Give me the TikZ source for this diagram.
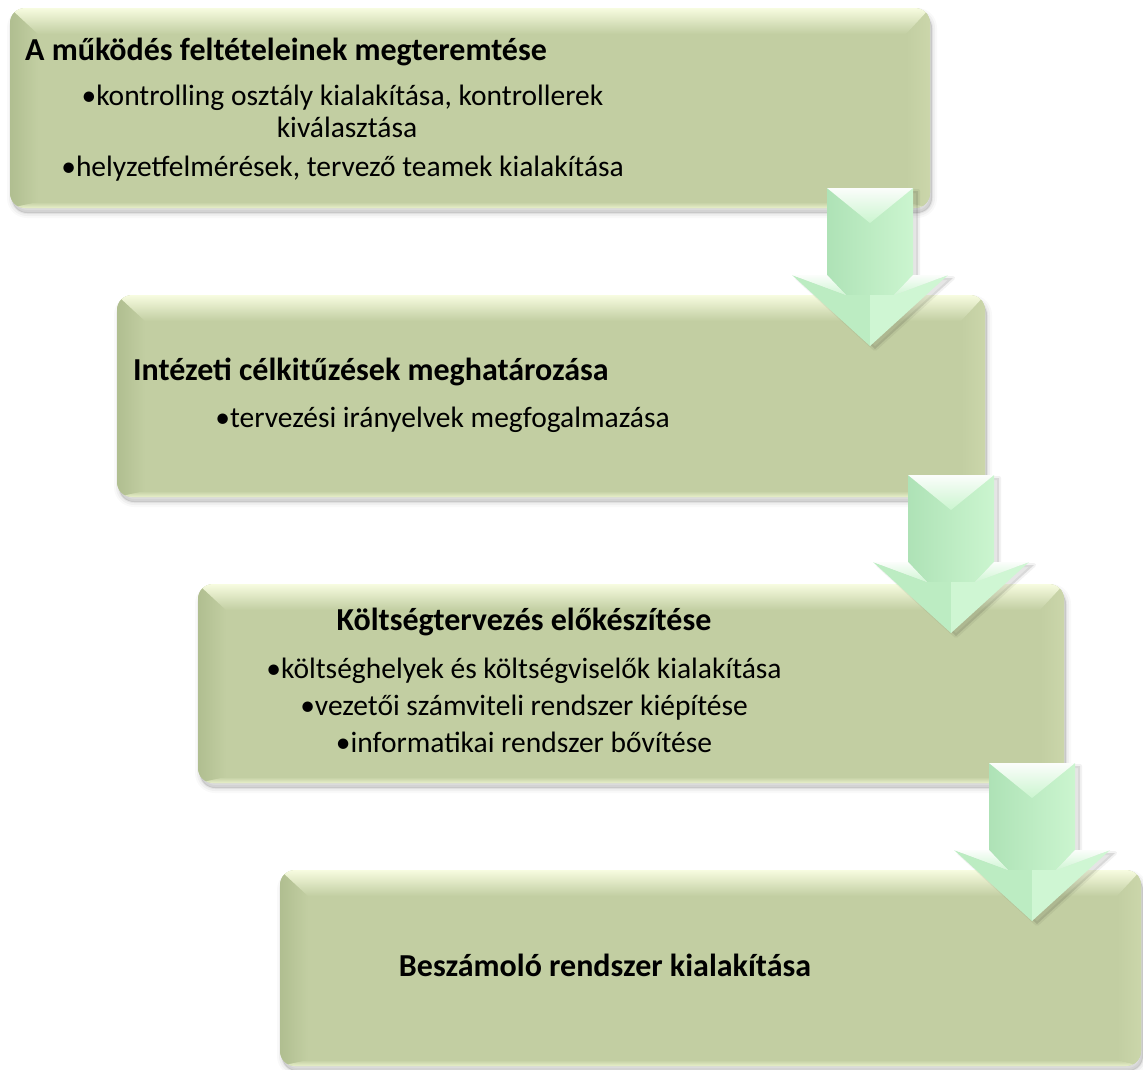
\documentclass[tikz,border=0pt]{standalone}
\usepackage{fontspec}
\setmainfont{Carlito}
\usetikzlibrary{calc}

% box colours
\definecolor{boxbase}{RGB}{194,206,162}
\definecolor{boxtop}{RGB}{247,252,224}
\definecolor{boxleft}{RGB}{176,190,144}
\definecolor{boxright}{RGB}{203,214,170}
\definecolor{boxbottom}{RGB}{232,240,202}
% arrow colours
\definecolor{shaftL}{RGB}{174,226,182}
\definecolor{shaftR}{RGB}{203,245,207}
\definecolor{headL}{RGB}{188,236,194}
\definecolor{headR}{RGB}{207,246,211}
\definecolor{facet}{RGB}{251,253,251}

\newcommand\stagetitle{\fontsize{32}{36}\selectfont\bfseries}
\newcommand\stagebody{\fontsize{29.5}{34}\selectfont}
\newcommand\bevT{26pt}
\newcommand\bevL{28pt}
\newcommand\bevR{24pt}
\newcommand\bevB{6pt}

\tikzset{
  shadowlayer/.style={transform canvas={xshift=2pt,yshift=-5pt}},
  stage/.style={
    rectangle, rounded corners=15pt, inner sep=0pt, fill=boxbase,
    preaction={draw=black, line width=10pt, opacity=0.025, shadowlayer},
    preaction={draw=black, line width=6pt, opacity=0.035, shadowlayer},
    preaction={draw=black, line width=2pt, opacity=0.05, shadowlayer},
    preaction={fill=black, opacity=0.12, shadowlayer},
    path picture={
      \coordinate (pNW) at (path picture bounding box.north west);
      \coordinate (pNE) at (path picture bounding box.north east);
      \coordinate (pSW) at (path picture bounding box.south west);
      \coordinate (pSE) at (path picture bounding box.south east);
      % bevel: left, right, bottom and top faces
      \shade[sharp corners, left color=boxleft, right color=boxbase]
        (pNW) -- ([xshift=\bevL,yshift=-\bevT]pNW) -- ([xshift=\bevL,yshift=\bevB]pSW) -- (pSW) -- cycle;
      \shade[sharp corners, left color=boxbase, right color=boxright]
        (pNE) -- ([xshift=-\bevR,yshift=-\bevT]pNE) -- ([xshift=-\bevR,yshift=\bevB]pSE) -- (pSE) -- cycle;
      \shade[sharp corners, top color=boxbase, bottom color=boxbottom]
        (pSW) -- ([xshift=\bevL,yshift=\bevB]pSW) -- ([xshift=-\bevR,yshift=\bevB]pSE) -- (pSE) -- cycle;
      \shade[sharp corners, top color=boxtop, bottom color=boxbase]
        (pNW) -- (pNE) -- ([xshift=-\bevR,yshift=-\bevT]pNE) -- ([xshift=\bevL,yshift=-\bevT]pNW) -- cycle;
    }
  },
  txt/.style={inner sep=0pt, text=black},
  downarrow/.pic={
    % soft shadow
    \path[fill=black, fill opacity=0.10, draw=black, draw opacity=0.05, line width=4pt,
          line join=round, xshift=5pt, yshift=-3pt]
      (-43,0) -- (43,0) -- (43,87) -- (78,87) -- (0,158) -- (-78,87) -- (-43,87) -- cycle;
    % shaft
    \shade[left color=shaftL, right color=shaftR]
      (-43,0) -- (43,0) -- (43,87) -- (24,107) -- (-24,107) -- (-43,87) -- cycle;
    % head faces
    \fill[headL] (-78,87) -- (-24,107) -- (0,107) -- (0,158) -- cycle;
    \fill[headR] (0,107) -- (24,107) -- (78,87) -- (0,158) -- cycle;
    % bevel facets on the wings
    \shade[top color=facet, bottom color=headR] (-78,87) -- (-43,87) -- (-24,107) -- cycle;
    \shade[top color=facet, bottom color=headR] (78,87) -- (43,87) -- (24,107) -- cycle;
    % bevel facet on top of the shaft
    \shade[top color=facet, bottom color=shaftR] (-43,0) -- (43,0) -- (0,35) -- cycle;
  }
}

\begin{document}
\begin{tikzpicture}[x=1pt,y=-1pt]
\useasboundingbox (0,0) rectangle (1143,1069);

% the four stages
\node[stage, minimum width=920pt, minimum height=200pt] (s1) at (470,108) {};
\node[stage, minimum width=868pt, minimum height=202pt] (s2) at (551,396) {};
\node[stage, minimum width=866pt, minimum height=199pt] (s3) at (631,683.5) {};
\node[stage, minimum width=861pt, minimum height=196pt] (s4) at (710.5,968) {};

% arrows leading from one stage to the next
\coordinate (a1) at (870,188);
\coordinate (a2) at (951,475);
\coordinate (a3) at (1032,763);
\pic (arr1) at (a1) {downarrow};
\pic (arr2) at (a2) {downarrow};
\pic (arr3) at (a3) {downarrow};

% stage 1
\node[txt, anchor=base west, font=\stagetitle] (t1) at (25,60) {A működés feltételeinek megteremtése};
\node[txt, anchor=base, font=\stagebody] (t1a) at (342.5,105) {•kontrolling osztály kialakítása, kontrollerek};
\node[txt, anchor=base, font=\stagebody] (t1b) at (347,137) {kiválasztása};
\node[txt, anchor=base, font=\stagebody] (t1c) at (342.5,176) {•helyzetfelmérések, tervező teamek kialakítása};

% stage 2
\node[txt, anchor=base west, font=\stagetitle] (t2) at (133,380) {Intézeti célkitűzések meghatározása};
\node[txt, anchor=base, font=\stagebody] (t2a) at (442.5,427) {•tervezési irányelvek megfogalmazása};

% stage 3
\node[txt, anchor=base, font=\stagetitle] (t3) at (524,630) {Költségtervezés előkészítése};
\node[txt, anchor=base, font=\stagebody] (t3a) at (524,678) {•költséghelyek és költségviselők kialakítása};
\node[txt, anchor=base, font=\stagebody] (t3b) at (524,715) {•vezetői számviteli rendszer kiépítése};
\node[txt, anchor=base, font=\stagebody] (t3c) at (524,752) {•informatikai rendszer bővítése};

% stage 4
\node[txt, anchor=base, font=\stagetitle] (t4) at (605,976) {Beszámoló rendszer kialakítása};
\end{tikzpicture}
\end{document}
